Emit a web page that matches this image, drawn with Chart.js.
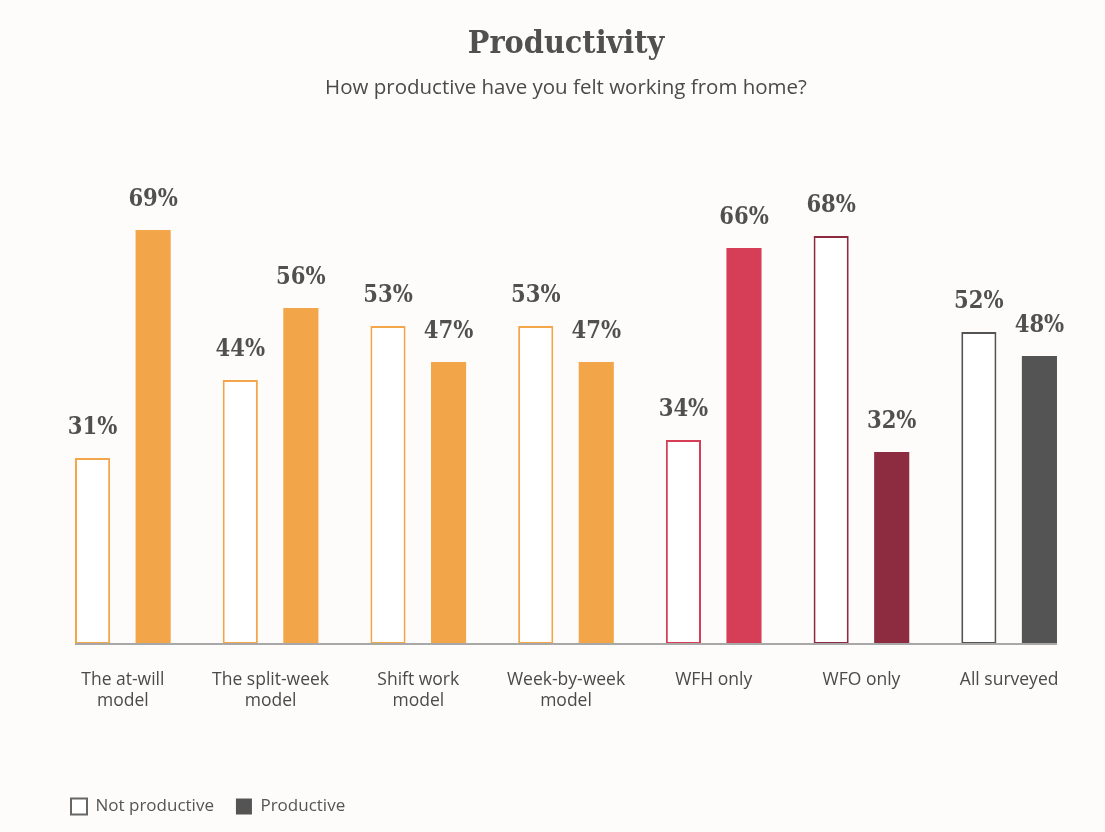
<!doctype html>
<html>
<head>
    <title>Productivity</title>
    <script src="https://cdn.jsdelivr.net/npm/chart.js@4/dist/chart.umd.min.js"></script>
    <style>
        html, body { margin: 0; padding: 0; background: #fdfcfa; }
        #holder { width: 1105px; height: 832px; }
    </style>
</head>
<body>
    <div id="holder">
        <canvas id="chart-area" width="1105" height="832"></canvas>
    </div>
    <script>
    // categories and values (percent)
    var categories = [
        ['The at-will', 'model'],
        ['The split-week', 'model'],
        ['Shift work', 'model'],
        ['Week-by-week', 'model'],
        'WFH only',
        'WFO only',
        'All surveyed'
    ];
    var notProductive = [31, 44, 53, 53, 34, 68, 52];
    var productive = [69, 56, 47, 47, 66, 32, 48];

    var orange = '#f2a649';
    var red = '#d63e57';
    var darkRed = '#8d2b41';
    var grey = '#545454';
    var groupColors = [orange, orange, orange, orange, red, darkRed, grey];

    var serif = '"DejaVu Serif Condensed", "DejaVu Serif", serif';
    var sans = '"Open Sans", "Noto Sans", sans-serif';

    // value labels above bars + baseline under bars
    var barLabels = {
        id: 'barLabels',
        afterDatasetsDraw: function(chart) {
            var ctx = chart.ctx;
            var first = chart.getDatasetMeta(0).data[0];
            var last = chart.getDatasetMeta(1).data[categories.length - 1];
            var y0 = chart.scales.y.getPixelForValue(0);
            ctx.save();
            ctx.strokeStyle = '#a8a8a8';
            ctx.lineWidth = 2;
            ctx.beginPath();
            ctx.moveTo(first.x - first.width / 2, y0);
            ctx.lineTo(last.x + last.width / 2, y0);
            ctx.stroke();

            ctx.fillStyle = '#505050';
            ctx.font = 'bold 23.5px ' + serif;
            ctx.textAlign = 'center';
            ctx.textBaseline = 'alphabetic';
            chart.data.datasets.forEach(function(ds, i) {
                chart.getDatasetMeta(i).data.forEach(function(bar, j) {
                    ctx.fillText(ds.data[j] + '%', bar.x, bar.y - 24);
                });
            });
            ctx.restore();
        }
    };

    var config = {
        type: 'bar',
        data: {
            labels: categories,
            datasets: [{
                label: 'Not productive',
                data: notProductive,
                backgroundColor: '#ffffff',
                borderColor: groupColors,
                borderWidth: 2,
                borderSkipped: false
            }, {
                label: 'Productive',
                data: productive,
                backgroundColor: groupColors,
                borderWidth: 0
            }]
        },
        options: {
            responsive: false,
            animation: false,
            categoryPercentage: 0.82,
            barPercentage: 0.58,
            layout: { padding: { left: 49, right: 22, top: 0, bottom: 7 } },
            scales: {
                x: {
                    grid: { display: false },
                    border: { display: false },
                    ticks: {
                        color: '#4a4a4a',
                        padding: 18,
                        maxRotation: 0,
                        font: { family: sans, size: 17.5 }
                    },
                    afterFit: function(scale) { scale.height = 132; }
                },
                y: {
                    display: false,
                    min: 0,
                    max: 80
                }
            },
            plugins: {
                title: {
                    display: true,
                    text: 'Productivity',
                    color: '#505050',
                    font: { family: serif, size: 32, weight: 'bold', lineHeight: 1.2 },
                    padding: { top: 25, bottom: 12 }
                },
                subtitle: {
                    display: true,
                    text: 'How productive have you felt working from home?',
                    color: '#4a4a4a',
                    font: { family: sans, size: 20.5, lineHeight: 1.2 },
                    padding: { top: 0, bottom: 64 }
                },
                legend: {
                    position: 'bottom',
                    align: 'start',
                    labels: {
                        color: '#555555',
                        boxWidth: 16,
                        boxHeight: 16,
                        padding: 22,
                        font: { family: sans, size: 17 },
                        generateLabels: function() {
                            return [
                                { text: 'Not productive', fillStyle: '#ffffff', strokeStyle: '#666666', lineWidth: 2, datasetIndex: 0, hidden: false, fontColor: '#555555' },
                                { text: 'Productive', fillStyle: grey, strokeStyle: grey, lineWidth: 0, datasetIndex: 1, hidden: false, fontColor: '#555555' }
                            ];
                        }
                    }
                },
                tooltip: { enabled: false }
            }
        },
        plugins: [barLabels]
    };

    window.onload = function() {
        var ctx = document.getElementById('chart-area').getContext('2d');
        window.myBar = new Chart(ctx, config);
    };
    </script>
</body>
</html>
